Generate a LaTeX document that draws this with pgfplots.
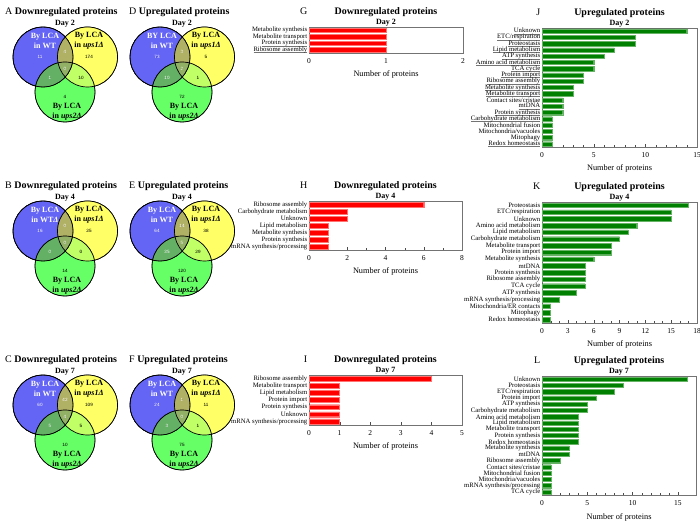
\documentclass[border=0pt]{standalone}
\usepackage{fontspec}
\setmainfont{Liberation Serif}
\newfontfamily\cntfont{Liberation Sans}
\usepackage{pgfplots}
\usepackage{pgfplotstable}
\pgfplotsset{compat=1.18}

\definecolor{vblue}{RGB}{100,100,245}
\definecolor{vyellow}{RGB}{255,255,102}
\definecolor{vgreen}{RGB}{102,255,102}
\definecolor{barred}{RGB}{255,0,0}
\definecolor{bargreen}{RGB}{0,128,0}

% underline that keeps the width and the height of its text
\newcommand\ul[1]{\setbox0=\hbox{#1}\rlap{\color{black!55}\rule[-1.1pt]{\wd0}{0.3pt}}\box0}

% circle centres of the venn diagrams (pixel coords, y downwards)
\pgfplotstableread{
x y
43 57
160 57
43 231
160 231
43 405
160 405
}\bluec
\pgfplotstableread{
x y
87.5 57
204.5 57
87.5 231
204.5 231
87.5 405
204.5 405
}\yellowc
\pgfplotstableread{
x y
65 92
182 92
65 266
182 266
65 440
182 440
}\greenc

% counts in the regions: white text (blue, blue/yellow, centre, blue/green)
\pgfplotstableread{
x y lab
40 57 11
65 52 4
65 69 0
50 78 1
157 57 73
182 52 3
182 69 2
167 78 10
40 231 16
65 226 0
65 243 0
50 252 0
157 231 64
182 226 14
182 243 5
167 252 35
40 405 60
65 400 42
65 417 4
50 426 5
157 405 24
182 400 1
182 417 0
167 426 3
}\cntwhite
% black text (yellow, yellow/green, green)
\pgfplotstableread{
x y lab
89 57 174
81 78 10
65 97 4
206 57 5
198 78 1
182 97 72
89 231 25
81 252 0
65 271 14
206 231 38
198 252 29
182 271 120
89 405 109
81 426 5
65 445 10
206 405 11
198 426 1
182 445 75
}\cntblack

\pgfplotsset{
  /pgf/number format/assume math mode=true,
  circ/.style={only marks, mark=*, mark size=30pt},
  cnt/.style={only marks, mark=*, mark size=0.01pt, mark options={draw=none, fill=none},
    nodes near coords, point meta=explicit symbolic,
    every node near coord/.append style={anchor=center, inner sep=0pt,
      font=\cntfont\fontsize{4.6}{5}\selectfont}},
  barax/.style={xbar, scale only axis, y dir=reverse, xmin=0, ymin=-0.5, clip=false,
    bar width=0.68, bar shift=0pt, ytick=data, tick pos=left,
    axis line style={black!55}, tick align=inside,
    ytick style={draw=none}, xtick style={black!70},
    major tick length=2.5pt, minor tick length=1.5pt,
    yticklabel style={font=\fontsize{6.7}{7}\selectfont, inner sep=1.5pt},
    xticklabel style={font=\fontsize{7.5}{8}\selectfont, yshift=-2pt},
    xlabel={Number of proteins},
    xlabel style={font=\fontsize{8.3}{9}\selectfont, at={(0.5,0)}, anchor=base, yshift=-24pt}},
  redbar/.style={fill=barred, draw=barred!55, line width=0.3pt},
  greenbar/.style={fill=bargreen, draw=bargreen!60!white, line width=0.3pt},
}

\tikzset{
  vlab/.style={align=center, font=\bfseries\fontsize{8}{9.5}\selectfont, inner sep=0pt},
  dayl/.style={font=\bfseries\fontsize{8}{9}\selectfont, inner sep=0pt},
  vtitle/.style={anchor=base west, font=\fontsize{10}{12}\selectfont, inner sep=0pt},
}

% texts of one venn diagram, origin = centre of the blue circle (pixel coords)
\newcommand\vennlabels[4]{%
  \node[vlab, text=white] at ({#1+2},{#2-16}) {#3};
  \node[vlab] at ({#1+46},{#2-16.5}) {By LCA\\in \textit{ups1Δ}};
  \node[vlab] at ({#1+24},{#2+54.5}) {By LCA\\in \textit{ups2Δ}};
  \node[dayl] at ({#1+22},{#2-33}) {#4};
}

\newcommand\paneltitle[3]{%
  \node[anchor=base east, xshift=-1.5pt, yshift=12.5pt, inner sep=0pt,
    font=\fontsize{10}{12}\selectfont] at (rel axis cs:0,1) {#1};
  \node[anchor=base, yshift=12.5pt, inner sep=0pt,
    font=\bfseries\fontsize{10}{12}\selectfont] at (rel axis cs:0.5,1) {#2};
  \node[anchor=base, yshift=2.5pt, inner sep=0pt,
    font=\bfseries\fontsize{8}{9}\selectfont] at (rel axis cs:0.5,1) {#3};
}

\begin{document}
\begin{tikzpicture}

% ---------------- venn diagrams ----------------
\begin{axis}[at={(0pt,0pt)}, anchor=south west, x=1pt, y=1pt,
  xmin=0, xmax=700, ymin=0, ymax=526, y dir=reverse,
  hide axis, clip=false, enlargelimits=false, scale only axis]
\addplot[circ, mark options={draw=none, fill=vblue}] table {\bluec};
\addplot[circ, mark options={draw=none, fill=vyellow}] table {\yellowc};
\addplot[circ, mark options={draw=none, fill=vgreen}] table {\greenc};
\addplot[circ, mark options={draw=none, fill=vyellow, fill opacity=0.6, blend mode=lighten}] table {\yellowc};
\addplot[circ, mark options={draw=none, fill=vblue, fill opacity=0.5, blend mode=darken}] table {\bluec};
\addplot[circ, mark=o, mark options={draw=black, line width=0.7pt}] table {\bluec};
\addplot[circ, mark=o, mark options={draw=black, line width=0.7pt}] table {\yellowc};
\addplot[circ, mark=o, mark options={draw=black, line width=0.7pt}] table {\greenc};

\addplot[cnt, every node near coord/.append style={text=white}] table[meta=lab] {\cntwhite};
\addplot[cnt, every node near coord/.append style={text=black}] table[meta=lab] {\cntblack};
\end{axis}

% texts of the venn diagrams, in pixel coordinates of the figure
\begin{scope}[x=1pt, y=-1pt, yshift=526pt]
\vennlabels{43}{57}{By LCA\\in WT}{Day 2}
\vennlabels{160}{57}{BY LCA\\in WT}{Day 2}
\vennlabels{43}{231}{By LCA\\in WT\textit{Δ}}{Day 4}
\vennlabels{160}{231}{By LCA\\in WT}{Day 4}
\vennlabels{43}{405}{By LCA\\in WT}{Day 7}
\vennlabels{160}{405}{By LCA\\in WT}{Day 7}
\node[vtitle] at (5,14.5) {A \textbf{Downregulated proteins}};
\node[vtitle] at (129,14.5) {D \textbf{Upregulated proteins}};
\node[vtitle] at (5,188.5) {B \textbf{Downregulated proteins}};
\node[vtitle] at (129,188.5) {E \textbf{Upregulated proteins}};
\node[vtitle] at (5,362.5) {C \textbf{Downregulated proteins}};
\node[vtitle] at (129,362.5) {F \textbf{Upregulated proteins}};
\end{scope}

% ---------------- G ----------------
\begin{axis}[barax, at={(309pt,473pt)}, anchor=south west, width=154pt, height=26pt,
  xmax=2, xtick={0,1,2}, ymax=3.5,
  yticklabels={Metabolite synthesis, Metabolite transport, \ul{Protein synthesis}, \ul{Ribosome assembly}}]
\addplot[redbar] coordinates {(1,0) (1,1) (1,2) (1,3)};
\paneltitle{G}{Downregulated proteins}{Day 2}
\end{axis}

% ---------------- H ----------------
\begin{axis}[barax, at={(309pt,276pt)}, anchor=south west, width=153pt, height=49pt,
  xmax=8, xtick={0,2,4,6,8}, minor x tick num=1, ymax=6.5,
  yticklabels={Ribosome assembly, Carbohydrate metabolism, Unknown, Lipid metabolism,
    Metabolite synthesis, Protein synthesis, mRNA synthesis/processing}]
\addplot[redbar] coordinates {(6,0) (2,1) (2,2) (1,3) (1,4) (1,5) (1,6)};
\paneltitle{H}{Downregulated proteins}{Day 4}
\end{axis}

% ---------------- I ----------------
\begin{axis}[barax, at={(309pt,101pt)}, anchor=south west, width=153pt, height=50pt,
  xmax=5, xtick={0,1,2,3,4,5}, ymax=6.5,
  yticklabels={Ribosome assembly, Metabolite transport, Lipid metabolism, Protein import,
    Protein synthesis, Unknown, mRNA synthesis/processing}]
\addplot[redbar] coordinates {(4,0) (1,1) (1,2) (1,3) (1,4) (1,5) (1,6)};
\paneltitle{I}{Downregulated proteins}{Day 7}
\end{axis}

% ---------------- J ----------------
\begin{axis}[barax, at={(542pt,379pt)}, anchor=south west, width=155pt, height=119pt,
  xmax=15, xtick={0,5,10,15}, minor x tick num=4, ymax=18.5,
  yticklabels={\ul{Unknown}, \ul{ETC/respiration}, \ul{Proteostasis}, \ul{Lipid metabolism},
    \ul{ATP synthesis}, \ul{Amino acid metabolism}, \ul{TCA cycle}, \ul{Protein import},
    \ul{Ribosome assembly}, \ul{Metabolite synthesis}, \ul{Metabolite transport},
    Contact sites/cristae, \ul{mtDNA}, \ul{Protein synthesis}, \ul{Carbohydrate metabolism},
    Mitochondrial fusion, Mitochondria/vacuoles, Mitophagy, \ul{Redox homeostasis}}]
\addplot[greenbar] coordinates {(14,0) (9,1) (9,2) (7,3) (6,4) (5,5) (5,6) (4,7) (4,8)
  (3,9) (3,10) (2,11) (2,12) (2,13) (1,14) (1,15) (1,16) (1,17) (1,18)};
\paneltitle{J}{Upregulated proteins}{Day 2}
\end{axis}

% ---------------- K ----------------
\begin{axis}[barax, at={(542pt,203pt)}, anchor=south west, width=155pt, height=121pt,
  xmax=18, xtick={0,3,6,9,12,15,18}, minor x tick num=2, ymax=17.5,
  yticklabels={Proteostasis, ETC/respiration, Unknown, Amino acid metabolism, Lipid metabolism,
    Carbohydrate metabolism, Metabolite transport, Protein import, Metabolite synthesis,
    mtDNA, Protein synthesis, Ribosome assembly, TCA cycle, ATP synthesis,
    mRNA synthesis/processing, Mitochondria/ER contacts, Mitophagy, Redox homeostasis}]
\addplot[greenbar] coordinates {(17,0) (15,1) (15,2) (11,3) (10,4) (9,5) (8,6) (8,7) (6,8)
  (5,9) (5,10) (5,11) (5,12) (4,13) (2,14) (1,15) (1,16) (1,17)};
\paneltitle{K}{Upregulated proteins}{Day 4}
\end{axis}

% ---------------- L ----------------
\begin{axis}[barax, at={(542pt,31pt)}, anchor=south west, width=154pt, height=119pt,
  xmax=17, xtick={0,5,10,15}, minor x tick num=4, ymax=18.5,
  yticklabels={Unknown, Proteostasis, ETC/respiration, Protein import, ATP synthesis,
    Carbohydrate metabolism, Amino acid metabolism, Lipid metabolism, Metabolite transport,
    Protein synthesis, Redox homeostasis, Metabolite synthesis, mtDNA, Ribosome assembly,
    Contact sites/cristae, Mitochondrial fusion, Mitochondria/vacuoles,
    mRNA synthesis/processing, TCA cycle}]
\addplot[greenbar] coordinates {(16,0) (9,1) (8,2) (6,3) (5,4) (5,5) (4,6) (4,7) (4,8)
  (4,9) (4,10) (3,11) (3,12) (2,13) (1,14) (1,15) (1,16) (1,17) (1,18)};
\paneltitle{L}{Upregulated proteins}{Day 7}
\end{axis}

\pgfresetboundingbox
\path[use as bounding box] (0pt,0pt) rectangle (700pt,526pt);
\end{tikzpicture}
\end{document}
